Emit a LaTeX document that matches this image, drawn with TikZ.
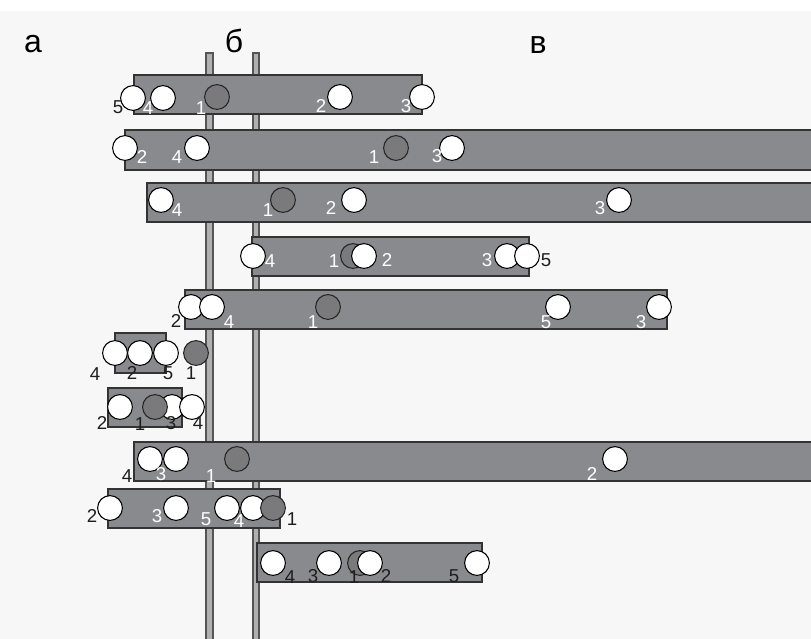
\documentclass[tikz,border=0pt]{standalone}
\usepackage{fontspec}
\setmainfont{Liberation Sans}
\definecolor{bg}{HTML}{F7F7F7}
\definecolor{barfill}{HTML}{898A8D}
\definecolor{barline}{HTML}{333333}
\definecolor{gcfill}{HTML}{7A7A7C}
\definecolor{railfill}{HTML}{B0B0B2}
\definecolor{railline}{HTML}{555555}
\definecolor{darktxt}{HTML}{1E1E1E}
\begin{document}
\begin{tikzpicture}[x=0.75pt,y=-0.75pt,
  bar/.style={fill=barfill,draw=barline,line width=1.1pt},
  rail/.style={fill=railfill,draw=railline,line width=0.8pt},
  wc/.style={circle,draw=black,fill=white,line width=0.8pt,minimum size=18.6pt,inner sep=0pt},
  gc/.style={circle,draw=black!85,fill=gcfill,line width=0.8pt,minimum size=18.6pt,inner sep=0pt},
  lw/.style={text=white,font=\fontsize{14}{16}\selectfont,inner sep=0pt},
  lb/.style={text=darktxt,font=\fontsize{14}{16}\selectfont,inner sep=0pt},
  head/.style={text=black,font=\fontsize{24}{26}\selectfont,inner sep=0pt}]
\useasboundingbox (0,0) rectangle (811,639);
\fill[bg] (0,0) rectangle (811,639);
\fill[white] (0,0) rectangle (811,11);
% headings
\node[head] (ha) at (33,44) {а};
\node[head] (hb) at (234,41) {б};
\node[head] (hv) at (538,45) {в};
% rails
\draw[rail] (206,53) rectangle (213,645);
\draw[rail] (253,53) rectangle (259,645);
% ---- bar 1
\draw[bar] (134,75) rectangle (422,114);
\node[wc] (a5) at (133,98) {};
\node[wc] (a4) at (163,98) {};
\node[gc] (a1) at (217,97) {};
\node[wc] (a2) at (340,97) {};
\node[wc] (a3) at (422,97) {};
\node[lb] (ta5) at (118,107) {5};
\node[lw] (ta4) at (148,108) {4};
\node[lw] (ta1) at (201,108) {1};
\node[lw] (ta2) at (321,106) {2};
\node[lw] (ta3) at (406,106) {3};
% ---- bar 2
\draw[bar] (125,130) rectangle (812,170);
\node[wc] (b2) at (125,148) {};
\node[wc] (b4) at (197,148) {};
\node[gc] (b1) at (396,148) {};
\node[wc] (b3) at (452,148) {};
\node[lw] (tb2) at (142,157) {2};
\node[lw] (tb4) at (177,157) {4};
\node[lw] (tb1) at (374,157) {1};
\node[lw] (tb3) at (437,156) {3};
% ---- bar 3
\draw[bar] (147,183) rectangle (812,222);
\node[wc] (c4) at (161,200) {};
\node[gc] (c1) at (283,200) {};
\node[wc] (c2) at (354,200) {};
\node[wc] (c3) at (619,200) {};
\node[lw] (tc4) at (177,210) {4};
\node[lw] (tc1) at (268,210) {1};
\node[lw] (tc2) at (331,208) {2};
\node[lw] (tc3) at (600,208) {3};
% ---- bar 4
\draw[bar] (252,237) rectangle (529,276);
\node[wc] (d4) at (253,256) {};
\node[gc] (d1) at (353,256) {};
\node[wc] (d2) at (364,256) {};
\node[wc] (d3) at (507,256) {};
\node[wc] (d5) at (527,256) {};
\node[lw] (td4) at (270,261) {4};
\node[lw] (td1) at (334,261) {1};
\node[lw] (td2) at (387,260) {2};
\node[lw] (td3) at (487,260) {3};
\node[lb] (td5) at (546,260) {5};
% ---- bar 5
\draw[bar] (185,290) rectangle (667,329);
\node[wc] (e2) at (191,307) {};
\node[wc] (e4) at (212,307) {};
\node[gc] (e1) at (328,307) {};
\node[wc] (e5) at (558,307) {};
\node[wc] (e3) at (659,307) {};
\node[lb] (te2) at (176,321) {2};
\node[lw] (te4) at (229,322) {4};
\node[lw] (te1) at (313,322) {1};
\node[lw] (te5) at (546,322) {5};
\node[lw] (te3) at (641,322) {3};
% ---- box 6
\draw[bar] (115,333) rectangle (166,373);
\node[wc] (f4) at (115,353) {};
\node[wc] (f2) at (140,353) {};
\node[wc] (f5) at (166,353) {};
\node[gc] (f1) at (196,353) {};
\node[lb] (tf4) at (95,374) {4};
\node[lb] (tf2) at (132,373) {2};
\node[lb] (tf5) at (168,373) {5};
\node[lb] (tf1) at (191,373) {1};
% ---- box 7
\draw[bar] (108,388) rectangle (182,427);
\node[wc] (g2) at (120,407) {};
\node[wc] (g3) at (172,407) {};
\node[gc] (g1) at (155,407) {};
\node[wc] (g4) at (192,407) {};
\node[lb] (tg2) at (102,423) {2};
\node[lb] (tg1) at (140,424) {1};
\node[lb] (tg3) at (171,423) {3};
\node[lb] (tg4) at (198,423) {4};
% ---- bar 8
\draw[bar] (134,442) rectangle (812,481);
\node[wc] (h4) at (150,459) {};
\node[wc] (h3) at (176,459) {};
\node[gc] (h1) at (237,459) {};
\node[wc] (h2) at (615,459) {};
\node[lb] (th4) at (127,476) {4};
\node[lw] (th3) at (161,474) {3};
\node[lw] (th1) at (211,476) {1};
\node[lw] (th2) at (592,474) {2};
% ---- bar 9
\draw[bar] (108,489) rectangle (280,528);
\node[wc] (i2) at (110,508) {};
\node[wc] (i3) at (176,508) {};
\node[wc] (i5) at (227,508) {};
\node[wc] (i4) at (253,508) {};
\node[gc] (i1) at (273,508) {};
\node[lb] (ti2) at (92,516) {2};
\node[lb] (ti1) at (292,519) {1};
\node[lw] (ti3) at (157,516) {3};
\node[lw] (ti5) at (206,519) {5};
\node[lw] (ti4) at (239,521) {4};
% ---- bar 10
\draw[bar] (257,543) rectangle (482,582);
\node[wc] (j4) at (273,563) {};
\node[wc] (j3) at (329,563) {};
\node[gc] (j1) at (360,563) {};
\node[wc] (j2) at (370,563) {};
\node[wc] (j5) at (477,563) {};
\node[lb] (tj4) at (290,577) {4};
\node[lb] (tj3) at (313,576) {3};
\node[lb] (tj1) at (354,577) {1};
\node[lb] (tj2) at (386,576) {2};
\node[lb] (tj5) at (454,576) {5};
\end{tikzpicture}
\end{document}
